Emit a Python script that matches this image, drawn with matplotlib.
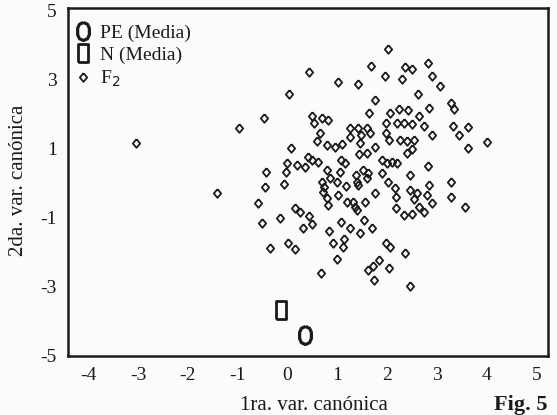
import matplotlib
matplotlib.use("Agg")
import matplotlib.pyplot as plt
from matplotlib.lines import Line2D

plt.rcParams['font.family'] = ['Liberation Serif', 'DejaVu Serif']
plt.rcParams['axes.unicode_minus'] = False

# F2 individuals (1ra. var. canónica, 2da. var. canónica)
f2_x = [2.01, 0.44, 1.67, 1.95, 2.36, 2.50, 2.30, 2.82, 2.91, 3.06,
        1.01, 1.42, 0.02, 1.76, 2.62, 1.63, 2.84, 3.29, 3.35, 0.50,
        0.54, 0.69, 0.82, 2.05, 2.23, 2.41, 2.19, 2.33, 2.50, 1.98,
        2.64, 2.73, 3.32, 3.63, 3.45, 2.91, 3.63, 4.01, 0.65, 0.59,
        0.80, 0.96, 1.09, 1.26, 1.26, 1.42, 1.59, 1.47, 1.46, 1.66,
        1.76, 1.98, 2.03, 2.25, 2.40, 2.53, 2.50, 2.40, 1.44, 1.59,
        0.07, -0.01, 0.19, 0.34, 0.40, 0.49, 0.62, -0.03, -0.07, 0.80,
        1.08, 1.16, 1.06, 0.69, 0.74, 0.86, 0.99, 1.18, 1.38, 1.52,
        1.62, 1.59, 1.40, 1.89, 1.99, 2.09, 2.19, 1.89, 2.01, 2.46,
        2.82, 2.85, 3.29, 3.29, 3.57, 0.72, 0.79, 1.02, 1.19, 1.32,
        1.56, 1.76, 2.16, 2.18, 2.46, 2.60, 2.53, 2.80, 2.91, 0.15,
        -3.05, -0.97, -0.48, -0.43, -0.46, -1.42, -0.60, -0.15, 0.25, 0.44,
        0.30, 0.49, 0.00, 0.15, 0.67, 0.84, 1.08, 1.26, 1.46, 1.54,
        1.70, 0.92, 1.14, 1.11, 1.00, 1.98, 2.05, 2.36, 1.61, 1.72,
        1.83, 2.03, 1.74, 2.45, 2.18, 2.33, 2.50, 2.63, 2.73, 0.82,
        1.36, -0.52, -0.36, 1.42, 1.39]
f2_y = [3.88, 3.21, 3.40, 3.10, 3.36, 3.30, 3.01, 3.47, 3.10, 2.81,
        2.94, 2.86, 2.57, 2.41, 2.57, 2.02, 2.19, 2.33, 2.14, 1.94,
        1.75, 1.88, 1.83, 2.02, 2.14, 2.12, 1.75, 1.73, 1.71, 1.73,
        1.94, 1.65, 1.65, 1.63, 1.39, 1.39, 1.03, 1.20, 1.44, 1.23,
        1.10, 1.05, 1.13, 1.60, 1.34, 1.59, 1.61, 1.39, 1.15, 1.44,
        1.05, 1.44, 1.25, 1.25, 1.22, 1.25, 0.98, 0.86, 0.84, 0.86,
        1.02, 0.57, 0.52, 0.47, 0.76, 0.67, 0.62, 0.33, -0.04, 0.38,
        0.67, 0.57, 0.33, 0.04, -0.11, 0.14, 0.04, -0.08, 0.23, 0.38,
        0.28, 0.14, 0.04, 0.67, 0.57, 0.62, 0.57, 0.28, 0.04, 0.23,
        0.49, -0.06, 0.04, -0.40, -0.69, -0.25, -0.44, -0.35, -0.54, -0.54,
        -0.54, -0.30, -0.15, -0.40, -0.20, -0.30, -0.47, -0.35, -0.59, -0.73,
        1.15, 1.60, 1.88, 0.33, -0.11, -0.28, -0.59, -1.02, -0.83, -0.96,
        -1.31, -1.19, -1.75, -1.92, -2.60, -1.39, -1.12, -1.30, -1.46, -1.07,
        -1.31, -1.73, -1.63, -1.85, -2.21, -1.73, -1.85, -2.02, -2.52, -2.41,
        -2.23, -2.47, -2.81, -2.99, -0.73, -0.93, -0.90, -0.69, -0.83, -0.64,
        -0.69, -1.17, -1.89, -0.06, -0.78]

# Group means
pe_x, pe_y = [0.34], [-4.40]
n_x, n_y = [-0.14], [-3.68]

x_ticks = [-4, -3, -2, -1, 0, 1, 2, 3, 4, 5]
y_ticks = [5, 3, 1, -1, -3, -5]
legend_labels = ['PE (Media)', 'N (Media)', 'F$_2$']

small_diamond = [(0, 1), (0.85, 0), (0, -1), (-0.85, 0), (0, 1)]
tall_oval = [(0, 1), (0.45, 0.8), (0.65, 0.35), (0.65, -0.35), (0.45, -0.8), (0, -1),
             (-0.45, -0.8), (-0.65, -0.35), (-0.65, 0.35), (-0.45, 0.8), (0, 1)]
tall_rect = [(-0.55, -1), (0.55, -1), (0.55, 1), (-0.55, 1), (-0.55, -1)]

fig = plt.figure(figsize=(5.57, 4.15), dpi=100)
fig.patch.set_facecolor('#fbfbfa')
ax = fig.add_axes([68/557, 1 - 356/415, 480/557, 348/415])
ax.set_facecolor('#fbfbfa')

ink = '#1a1a1a'
ax.plot(f2_x, f2_y, linestyle='none', marker=small_diamond, markersize=6.2,
        markerfacecolor='none', markeredgecolor=ink, markeredgewidth=1.3)
ax.plot(pe_x, pe_y, linestyle='none', marker=tall_oval, markersize=13,
        markerfacecolor='none', markeredgecolor=ink, markeredgewidth=2.3)
ax.plot(n_x, n_y, linestyle='none', marker=tall_rect, markersize=13,
        markerfacecolor='none', markeredgecolor=ink, markeredgewidth=2.0)

ax.set_xlim(-4.41, 5.23)
ax.set_ylim(-5.02, 5.08)
ax.set_xticks(x_ticks)
ax.set_xticklabels([str(v) for v in x_ticks])
ax.set_yticks(y_ticks)
ax.set_yticklabels([str(v) for v in y_ticks])
ax.tick_params(length=0, labelsize=14, colors=ink, pad=8)
for s in ax.spines.values():
    s.set_linewidth(1.8)
    s.set_color(ink)

handles = [
    Line2D([], [], linestyle='none', marker=tall_oval, markersize=13,
           markerfacecolor='none', markeredgecolor=ink, markeredgewidth=2.3),
    Line2D([], [], linestyle='none', marker=tall_rect, markersize=13,
           markerfacecolor='none', markeredgecolor=ink, markeredgewidth=2.0),
    Line2D([], [], linestyle='none', marker=small_diamond, markersize=6.2,
           markerfacecolor='none', markeredgecolor=ink, markeredgewidth=1.3),
]
ax.legend(handles, legend_labels, loc='upper left', frameon=False, fontsize=14,
          handlelength=0.8, handletextpad=0.45, labelspacing=0.22,
          borderaxespad=0.5, borderpad=0.35, labelcolor=ink,
          bbox_to_anchor=(-9/480, 1.0))

fig.text(314/557, 1 - 405/415, '1ra. var. canónica', ha='center', va='center',
         fontsize=15, color=ink)
fig.text(521/557, 1 - 405/415, 'Fig. 5', ha='center', va='center',
         fontsize=16, fontweight='bold', color=ink)
fig.text(19/557, 1 - 180/415, '2da. var. canónica', ha='center', va='center',
         rotation=90, fontsize=15, color=ink)

fig.savefig('out.png', dpi=100, facecolor=fig.get_facecolor())
